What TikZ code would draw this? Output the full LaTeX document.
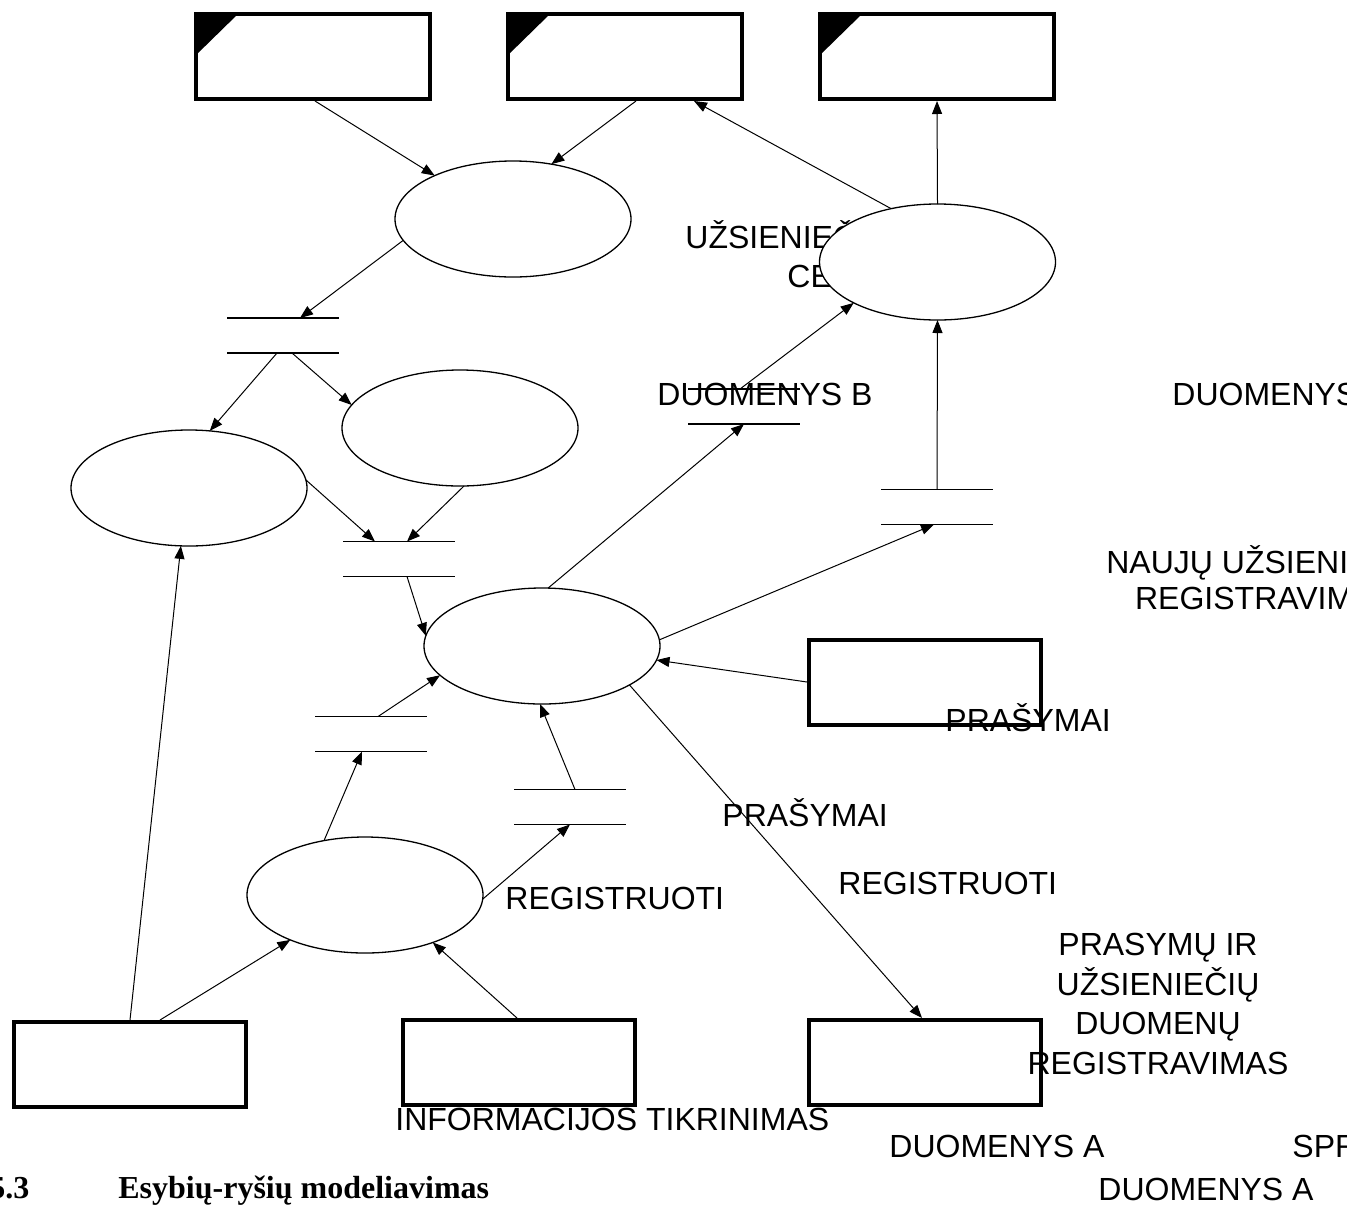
\documentclass[tikz,border=0pt]{standalone}
\usepackage{fontspec}
\setmainfont{Liberation Sans}
\newfontfamily\headfont{Liberation Serif}
\usetikzlibrary{shapes.geometric,arrows.meta}

\tikzset{
  proc/.style={ellipse, draw, line width=0.65pt, fill=white,
    minimum width=118pt, minimum height=58pt, inner sep=0pt, outer sep=0pt},
  ent/.style={rectangle, draw, line width=2pt, minimum width=116pt,
    minimum height=42.5pt, inner sep=0pt, outer sep=1pt},
  entwide/.style={ent, minimum width=117pt},
  store/.style={rectangle, minimum width=56pt, minimum height=17.5pt,
    inner sep=0pt, outer sep=0pt},
  storeline/.style={line width=0.65pt},
  flow/.style={line width=0.5pt, -{Triangle[length=6.5pt,width=5pt]}},
  lbl/.style={anchor=base west, inner sep=0pt, font=\fontsize{16}{19.5}\selectfont},
  lblc/.style={lbl, anchor=base},
  head/.style={anchor=base west, inner sep=0pt,
    font=\headfont\bfseries\fontsize{16}{19.5}\selectfont},
}

\begin{document}
\begin{tikzpicture}[x=0.5pt,y=-0.5pt]
\useasboundingbox (0,0) rectangle (1347,1205);

% labels (some of them lie partly under shapes)
\node[lbl] (lblC1) at (685,248) {UŽSIENIEČIŲ};
\node[lbl] (lblC2) at (787,287) {CENTRAS};
\node[lbl] (lblB) at (657,405) {DUOMENYS B};
\node[lbl] (lblD) at (1172,405) {DUOMENYS};
\node[lblc] (lblN1) at (1265.5,573) {NAUJŲ UŽSIENIEČIŲ};
\node[lblc] (lblN2) at (1265.5,609) {REGISTRAVIMAS};
\node[lbl] (lblP1) at (945,731) {PRAŠYMAI};
\node[lbl] (lblP2) at (722,826) {PRAŠYMAI};
\node[lbl] (lblR1) at (505,909) {REGISTRUOTI};
\node[lbl] (lblR2) at (838,894) {REGISTRUOTI};
\node[lblc] (lblQ1) at (1158,955) {PRASYMŲ IR};
\node[lblc] (lblQ2) at (1158,995) {UŽSIENIEČIŲ};
\node[lblc] (lblQ3) at (1158,1034) {DUOMENŲ};
\node[lblc] (lblQ4) at (1158,1074) {REGISTRAVIMAS};
\node[lbl] (lblI) at (395,1130) {INFORMACIJOS TIKRINIMAS};
\node[lbl] (lblA1) at (889,1157) {DUOMENYS A};
\node[lbl] (lblS) at (1292,1157) {SPRENDIMAI};
\node[lbl] (lblA2) at (1098,1200) {DUOMENYS A};

% section heading
\node[head] (secnum) at (-11,1198) {5.3};
\node[head] (sectitle) at (118,1198) {Esybių-ryšių modeliavimas};

% processes
\node[proc] (e1) at (513,219) {};
\node[proc] (e2) at (937.5,262) {};
\node[proc] (e3) at (189,488) {};
\node[proc] (e4) at (460,428) {};
\node[proc] (e5) at (542,646) {};
\node[proc] (e6) at (365,895) {};

% external entities, top row with a black corner
\node[entwide] (t1) at (313,56.5) {};
\node[entwide] (t2) at (625,56.5) {};
\node[entwide] (t3) at (937,56.5) {};
\foreach \t in {t1,t2,t3}
  \fill (\t.north west) -- ++(46,0) -- ++(-46,45) -- cycle;

\node[ent] (b1) at (130,1064.5) {};
\node[ent] (b2) at (519,1062.5) {};
\node[ent] (b3) at (925,1062.5) {};
\node[ent] (b4) at (925,682) {};

% data stores
\node[store] (s1) at (283,335.5) {};
\node[store] (s2) at (744,406.5) {};
\node[store] (s3) at (937,507) {};
\node[store] (s4) at (399,559) {};
\node[store] (s5) at (371,734) {};
\node[store] (s6) at (570,807) {};
\foreach \s in {s1,s2,s3,s4,s5,s6}
  \draw[storeline] (\s.north west) -- (\s.north east)
                   (\s.south west) -- (\s.south east);

% flows
\draw[flow] ([xshift=1pt]t1.south) -- (e1.151);
\draw[flow] ([xshift=5.5pt]t2.south) -- (e1.55);
\draw[flow] (e2.131) -- ([xshift=34.5pt]t2.south);
\draw[flow] (e2.north) -- (t3.south);
\draw[flow] (e1.191) -- ([xshift=8.5pt]s1.north);
\draw[flow] ([xshift=-3pt]s1.south) -- (e3.70);
\draw[flow] ([xshift=4.5pt]s1.south) -- (e4.168);
\draw[flow] (e3.4) -- ([xshift=-12pt]s4.north);
\draw[flow] (e4.274) -- ([xshift=4pt]s4.north);
\draw[flow] ([xshift=4pt]s4.south) -- (e5.175);
\draw[flow] (e5.84) -- (s2.south);
\draw[flow] ([xshift=-2pt]s2.north) -- (e2.206);
\draw[flow] (e5.3) -- ([xshift=-1.5pt]s3.south);
\draw[flow] (s3.north) -- (e2.south);
\draw[flow] (b4.west) -- (e5.353);
\draw[flow] (e5.336) -- ([xshift=-1.5pt]b3.north);
\draw[flow] ([xshift=3.5pt]s5.north) -- (e5.196);
\draw[flow] ([xshift=2.5pt]s6.north) -- (e5.268);
\draw[flow] (e6.127) -- ([xshift=-4.5pt]s5.south);
\draw[flow] (e6.358) -- (s6.south);
\draw[flow] ([xshift=15pt]b1.north) -- (e6.211);
\draw[flow] (b1.north) -- (e3.262);
\draw[flow] ([xshift=-1pt]b2.north) -- (e6.325);
\end{tikzpicture}
\end{document}
